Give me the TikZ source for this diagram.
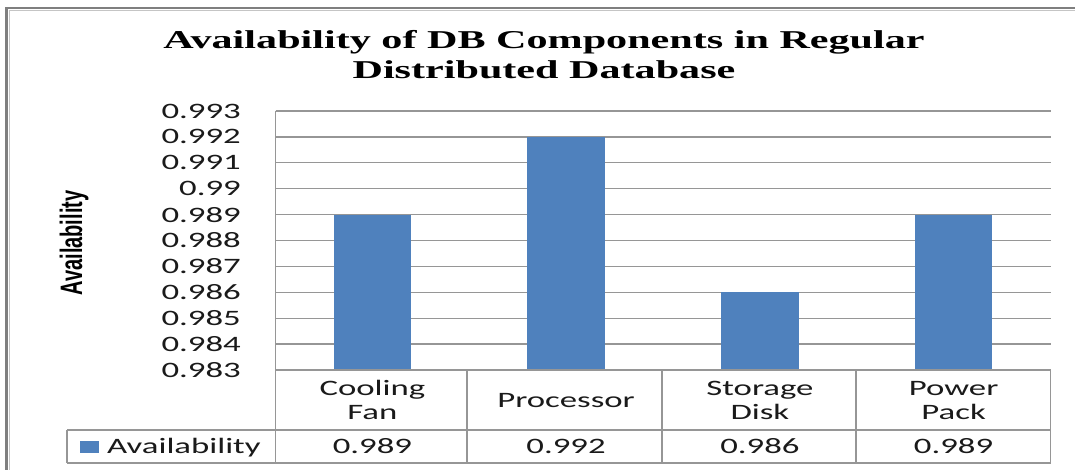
\documentclass[tikz,border=0pt]{standalone}
\usepackage{fontspec}
\setmainfont{Carlito}
\newfontfamily\titlefont{Liberation Serif}
\newfontfamily\axisfont{Liberation Sans}
\usepackage{graphicx}
% horizontally stretched text, as in the chart's wide lettering
\newcommand\widetxt[1]{\scalebox{1.58}[1]{#1}}
\newcommand\widettl[1]{\scalebox{1.64}[1]{#1}}
\definecolor{barblue}{HTML}{4F81BD}
\definecolor{gridgray}{HTML}{969696}
\definecolor{framegray}{HTML}{7F7F7F}
\definecolor{txt}{HTML}{1A1A1A}

\begin{document}
\begin{tikzpicture}[x=1pt,y=-1pt,
  ticklabel/.style={anchor=east,inner sep=0pt,text=txt,font=\fontsize{22}{24}\selectfont},
  celltext/.style={anchor=base,inner sep=0pt,text=txt,font=\fontsize{22}{24}\selectfont},
  titletext/.style={anchor=base,inner sep=0pt,font=\titlefont\bfseries\fontsize{25.7}{30}\selectfont},
  gridline/.style={draw=gridgray,line width=1.3pt},
  tableline/.style={draw=gridgray,line width=1.3pt},
  bar/.style={fill=barblue,draw=none}]
\useasboundingbox (0,0) rectangle (1075,470);
\clip (0,0) rectangle (1075,470);
\fill[white] (0,0) rectangle (1075,470);

% chart frame (runs off the right and bottom edges)
\draw[framegray!45,line width=1pt] (9.5,480) |- (1090,10.5);
\draw[framegray,line width=2.5pt] (6.5,480) |- (1090,8);

% title
\node[titletext] (title1) at (544,49) {\widettl{Availability of DB Components in Regular}};
\node[titletext] (title2) at (544,79) {\widettl{Distributed Database}};

% axis title
\node[rotate=90,inner sep=0pt] (ylab) at (74,243)
  {\scalebox{1}[1.55]{\axisfont\bfseries\fontsize{20}{22}\selectfont Availability}};

% gridlines and tick labels: 0.983 at y=370, one step = 25.9
\foreach \i/\lab in {0/0.983,1/0.984,2/0.985,3/0.986,4/0.987,5/0.988,6/0.989,7/0.99,8/0.991,9/0.992,10/0.993}{
  \coordinate (gl\i) at (275.5,{370-25.9*\i});
  \coordinate (gr\i) at (1050.5,{370-25.9*\i});
  \draw[gridline] (gl\i) -- (gr\i);
  \node[ticklabel] (tick\i) at (241,{370-25.9*\i}) {\widetxt{\lab}};
}

% bars: height in steps of 0.001 above 0.983
\foreach \n/\cx/\s in {a/372.4/6,b/566.1/9,c/759.9/3,d/953.6/6}{
  \fill[bar] ({\cx-38.75},370) rectangle ({\cx+38.75},{370-25.9*\s});
}

% data table lines
\coordinate (tl) at (275.5,111);
\coordinate (tb) at (275.5,463);
\draw[tableline] (tl) -- (tb);
\draw[tableline] (gl0) -- (gr0);
\draw[tableline] (67,430) -- (1050.5,430);
\draw[tableline] (67,463) -- (1050.5,463);
\draw[tableline] (67,430) -- (67,463);
\foreach \xx in {467,662,856,1050.5}{
  \draw[tableline] (\xx,370) -- (\xx,463);
}

% category labels
\node[celltext] (cat1a) at (372.4,395) {\widetxt{Cooling}};
\node[celltext] (cat1b) at (372.4,419) {\widetxt{Fan}};
\node[celltext] (cat2) at (566.1,407) {\widetxt{Processor}};
\node[celltext] (cat3a) at (759.9,395) {\widetxt{Storage}};
\node[celltext] (cat3b) at (759.9,419) {\widetxt{Disk}};
\node[celltext] (cat4a) at (953.6,395) {\widetxt{Power}};
\node[celltext] (cat4b) at (953.6,419) {\widetxt{Pack}};

% legend cell and values
\fill[barblue] (80,441) rectangle (99,453);
\node[celltext,anchor=base west] (legend) at (107,453) {\widetxt{Availability}};
\node[celltext] (val1) at (372.4,453) {\widetxt{0.989}};
\node[celltext] (val2) at (566.1,453) {\widetxt{0.992}};
\node[celltext] (val3) at (759.9,453) {\widetxt{0.986}};
\node[celltext] (val4) at (953.6,453) {\widetxt{0.989}};
\end{tikzpicture}
\end{document}
